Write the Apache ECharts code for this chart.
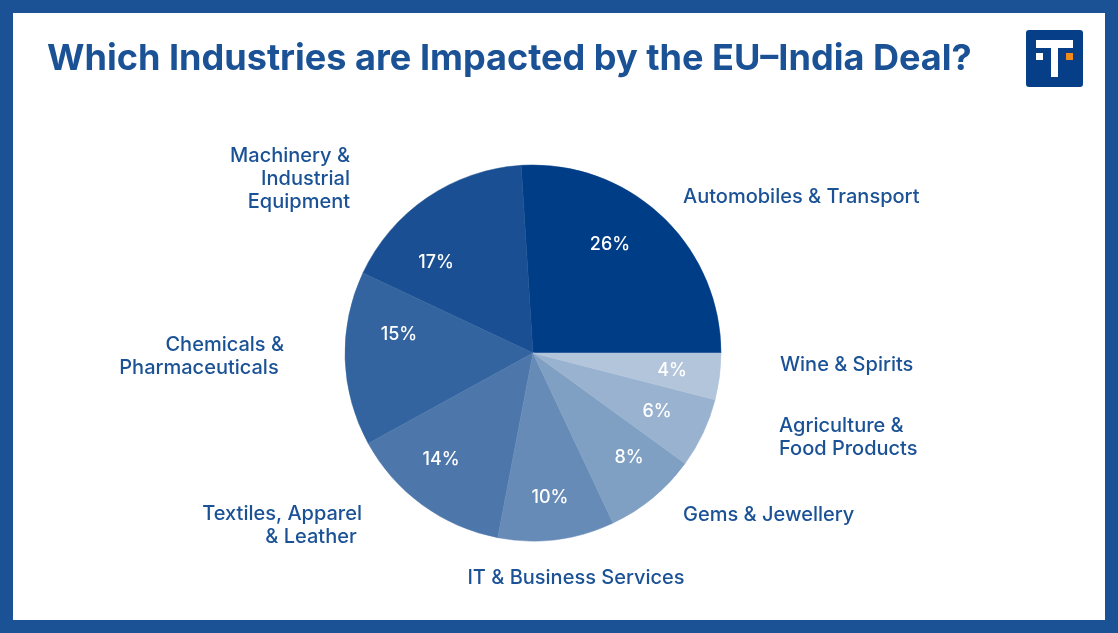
<!DOCTYPE html>
<html>
<head>
<meta charset="utf-8">
<style>
html,body{margin:0;padding:0;background:#fff}
#chart{width:1118px;height:633px}
</style>
<script src="https://cdn.jsdelivr.net/npm/echarts@6/dist/echarts.min.js"></script>
</head>
<body>
<div id="chart"></div>
<script>
// Share of EU–India deal impact by industry
const industries = [
  'Automobiles & Transport',
  'Machinery &\nIndustrial\nEquipment',
  'Chemicals &\nPharmaceuticals\u00a0',
  'Textiles, Apparel\n& Leather\u00a0',
  'IT & Business Services',
  'Gems & Jewellery',
  'Agriculture &\nFood Products',
  'Wine & Spirits'
];
const shares = [26, 17, 15, 14, 10, 8, 6, 4];
const sliceColors = ['#003d87', '#1a5093', '#33649f', '#4d77ab', '#668bb7', '#80a0c3', '#99b2cf', '#b3c5db'];

// Hand-placed label anchors for the category names and the percentages
const nameAnchors = [
  { x: 683, y: 197, align: 'left' },
  { x: 350, y: 179, align: 'right' },
  { x: 284, y: 356, align: 'right' },
  { x: 362, y: 525, align: 'right' },
  { x: 576, y: 578, align: 'center' },
  { x: 683, y: 515, align: 'left' },
  { x: 779, y: 437, align: 'left' },
  { x: 780, y: 365, align: 'left' }
];
const shareAnchors = [
  [610, 245], [436, 263], [399, 335], [441, 460],
  [550, 498], [629, 458], [657, 412], [672, 371]
];

const BLUE = '#1b5296';
const LABEL_FONT = 'Inter, "Noto Sans", sans-serif';
const chart = echarts.init(document.getElementById('chart'), null, { renderer: 'canvas' });

const pieBase = {
  type: 'pie',
  center: [533, 353],
  radius: [0, 188],
  startAngle: 0,
  clockwise: false,
  animation: false,
  silent: true,
  labelLine: { show: false }
};

chart.setOption({
  backgroundColor: BLUE,
  graphic: [
    // white panel inside the frame
    { type: 'rect', z: 0, shape: { x: 13, y: 13, width: 1092, height: 607 }, style: { fill: '#fff' } },
    // brand mark
    { type: 'rect', z: 1, shape: { x: 1026, y: 30, width: 57, height: 57, r: 3 }, style: { fill: '#063f87' } },
    { type: 'rect', z: 2, shape: { x: 1036, y: 40, width: 37, height: 8 }, style: { fill: '#fff' } },
    { type: 'rect', z: 2, shape: { x: 1051, y: 48, width: 7, height: 29 }, style: { fill: '#fff' } },
    { type: 'rect', z: 2, shape: { x: 1036, y: 53, width: 7, height: 7 }, style: { fill: '#fff' } },
    { type: 'rect', z: 2, shape: { x: 1066, y: 53, width: 7, height: 7 }, style: { fill: '#f08a1d' } }
  ],
  title: {
    text: 'Which Industries are Impacted by the EU–India Deal?',
    left: 42,
    top: 36,
    textStyle: { color: BLUE, fontFamily: 'Inter, sans-serif', fontWeight: 700, fontSize: 36.1 }
  },
  series: [
    {
      ...pieBase,
      z: 3,
      data: industries.map((name, i) => ({
        name,
        value: shares[i],
        // a hairline in the slice's own colour closes the seams between wedges
        itemStyle: { color: sliceColors[i], borderColor: sliceColors[i], borderWidth: 0.5 }
      })),
      label: {
        show: true,
        position: 'outside',
        formatter: '{b}',
        color: BLUE,
        fontFamily: LABEL_FONT,
        fontWeight: 500,
        fontSize: 20,
        lineHeight: 23
      },
      labelLayout: params => {
        const a = nameAnchors[params.dataIndex];
        return { x: a.x, y: a.y, align: a.align, verticalAlign: 'middle' };
      }
    },
    {
      ...pieBase,
      z: 4,
      itemStyle: { color: 'rgba(0,0,0,0)' },
      data: industries.map((name, i) => ({ name, value: shares[i] })),
      label: {
        show: true,
        position: 'inside',
        formatter: p => p.value + '%',
        color: '#fff',
        fontFamily: LABEL_FONT,
        fontWeight: 500,
        fontSize: 18
      },
      labelLayout: params => {
        const a = shareAnchors[params.dataIndex];
        return { x: a[0], y: a[1], align: 'center', verticalAlign: 'middle' };
      }
    }
  ]
});
</script>
</body>
</html>
